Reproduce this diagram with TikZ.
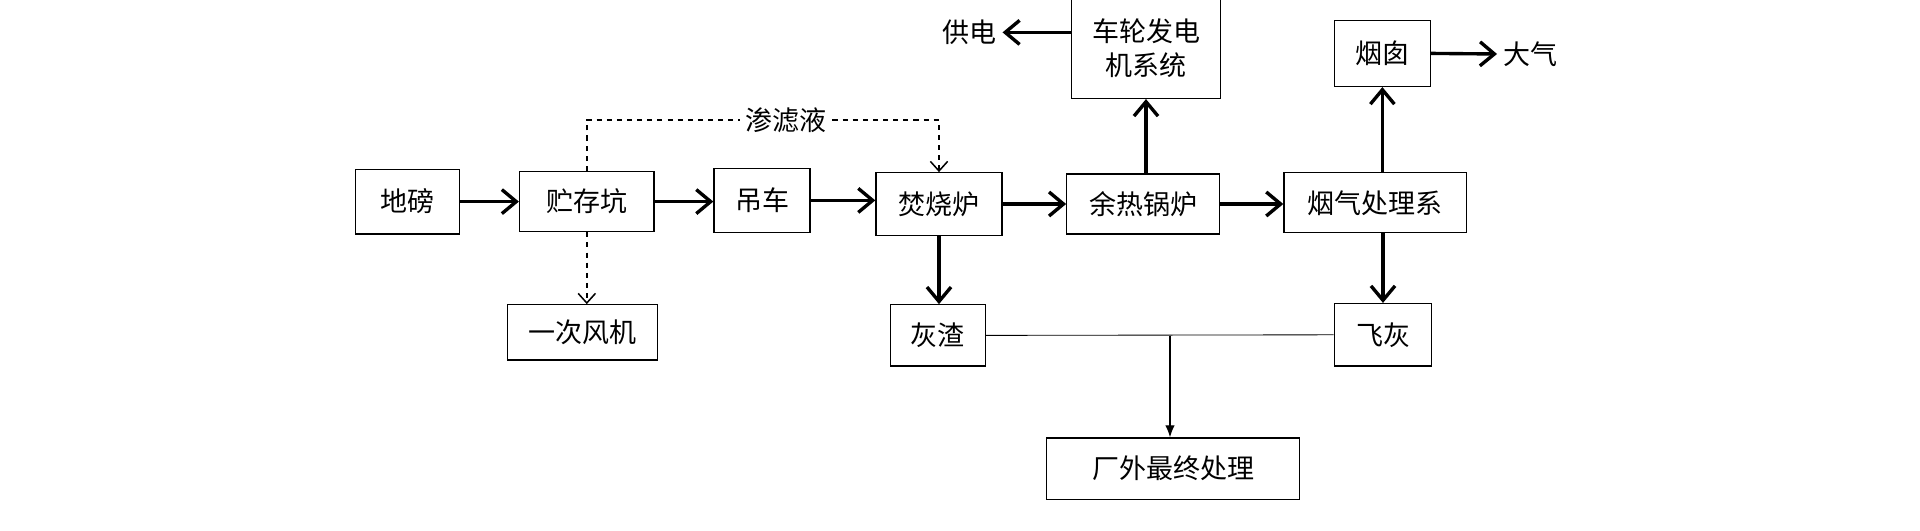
\documentclass[tikz,border=0pt]{standalone}
\usepackage{fontspec}
\setmainfont{Noto Sans CJK SC}
\usetikzlibrary{arrows.meta}
\tikzstyle{block} = [draw, rectangle, inner sep=0pt, line width=0.8pt]
\tikzstyle{flow} = [-{Straight Barb[length=3mm,width=5mm]}, line width=2pt]
\tikzstyle{leak} = [-{Straight Barb[length=2mm,width=3.6mm]}, dashed, line width=0.9pt]

\begin{document}
\begin{tikzpicture}[x=0.025cm, y=-0.025cm, font=\fontsize{16}{20}\selectfont]

\useasboundingbox (0,0) rectangle (1600,442.5);

\node[block,minimum width=2.175cm,minimum height=1.35cm] (scale) at (339.5,168) {地磅};
\node[block,minimum width=2.8cm,minimum height=1.25cm] (pit) at (489,168) {贮存坑};
\node[block,minimum width=2.0cm,minimum height=1.325cm] (crane) at (635,167) {吊车};
\node[block,minimum width=2.625cm,minimum height=1.3cm] (furnace) at (782.5,170) {焚烧炉};
\node[block,minimum width=3.175cm,minimum height=1.25cm] (boiler) at (952.5,170) {余热锅炉};
\node[block,minimum width=3.8cm,minimum height=1.25cm] (gas) at (1146,169) {烟气处理系};
\node[block,minimum width=3.125cm,minimum height=1.15cm] (fan) at (485.5,277) {一次风机};
\node[block,minimum width=1.975cm,minimum height=1.275cm] (slag) at (781.5,279.5) {灰渣};
\node[block,minimum width=2.025cm,minimum height=1.3cm] (ash) at (1152.5,279) {飞灰};
\node[block,minimum width=3.1cm,minimum height=2.1cm,align=center] (gen) at (955,40) {车轮发电\\机系统};
\node[block,minimum width=2.0cm,minimum height=1.375cm] (stack) at (1152,44.5) {烟囱};
\node[block,minimum width=5.275cm,minimum height=1.275cm] (final) at (977.5,390.5) {厂外最终处理};

\node (power) at (808,27) {供电};
\node (air) at (1275,45) {大气};
\node (leachate) at (655,100) {渗滤液};

\coordinate (join) at (975,280);

% main line
\draw[flow] (scale.east) -- (scale.east -| pit.west);
\draw[flow] (pit.east) -- (pit.east -| crane.west);
\draw[flow] (crane.east) -- (crane.east -| furnace.west);
\draw[flow] (furnace.east) -- (furnace.east -| boiler.west);
\draw[flow] (boiler.east) -- (boiler.east -| gas.west);

\draw[flow] (boiler.north -| gen.south) -- (gen.south);
\draw[flow] (gen.west |- power) -- (power.east);
\draw[flow] (gas.north -| stack) -- (stack.south);
\draw[flow] (stack.east) -- (air.west);
\draw[flow] (furnace.south) -- (furnace.south |- slag.north);
\draw[flow] (gas.south -| ash) -- (ash.north);

% leachate and air
\draw[dashed, line width=0.9pt] (pit.north) -- (pit.north |- leachate) -- (leachate.west);
\draw[leak] (leachate.east) -- (furnace.north |- leachate) -- (furnace.north);
\draw[leak] (pit.south) -- (pit.south |- fan.north);

% residues
\draw[line width=0.5pt] (slag.east) -- (ash.west);
\draw[-{Latex[length=2.5mm,width=2mm]}, line width=0.8pt] (join) -- (join |- final.north);

\end{tikzpicture}
\end{document}
